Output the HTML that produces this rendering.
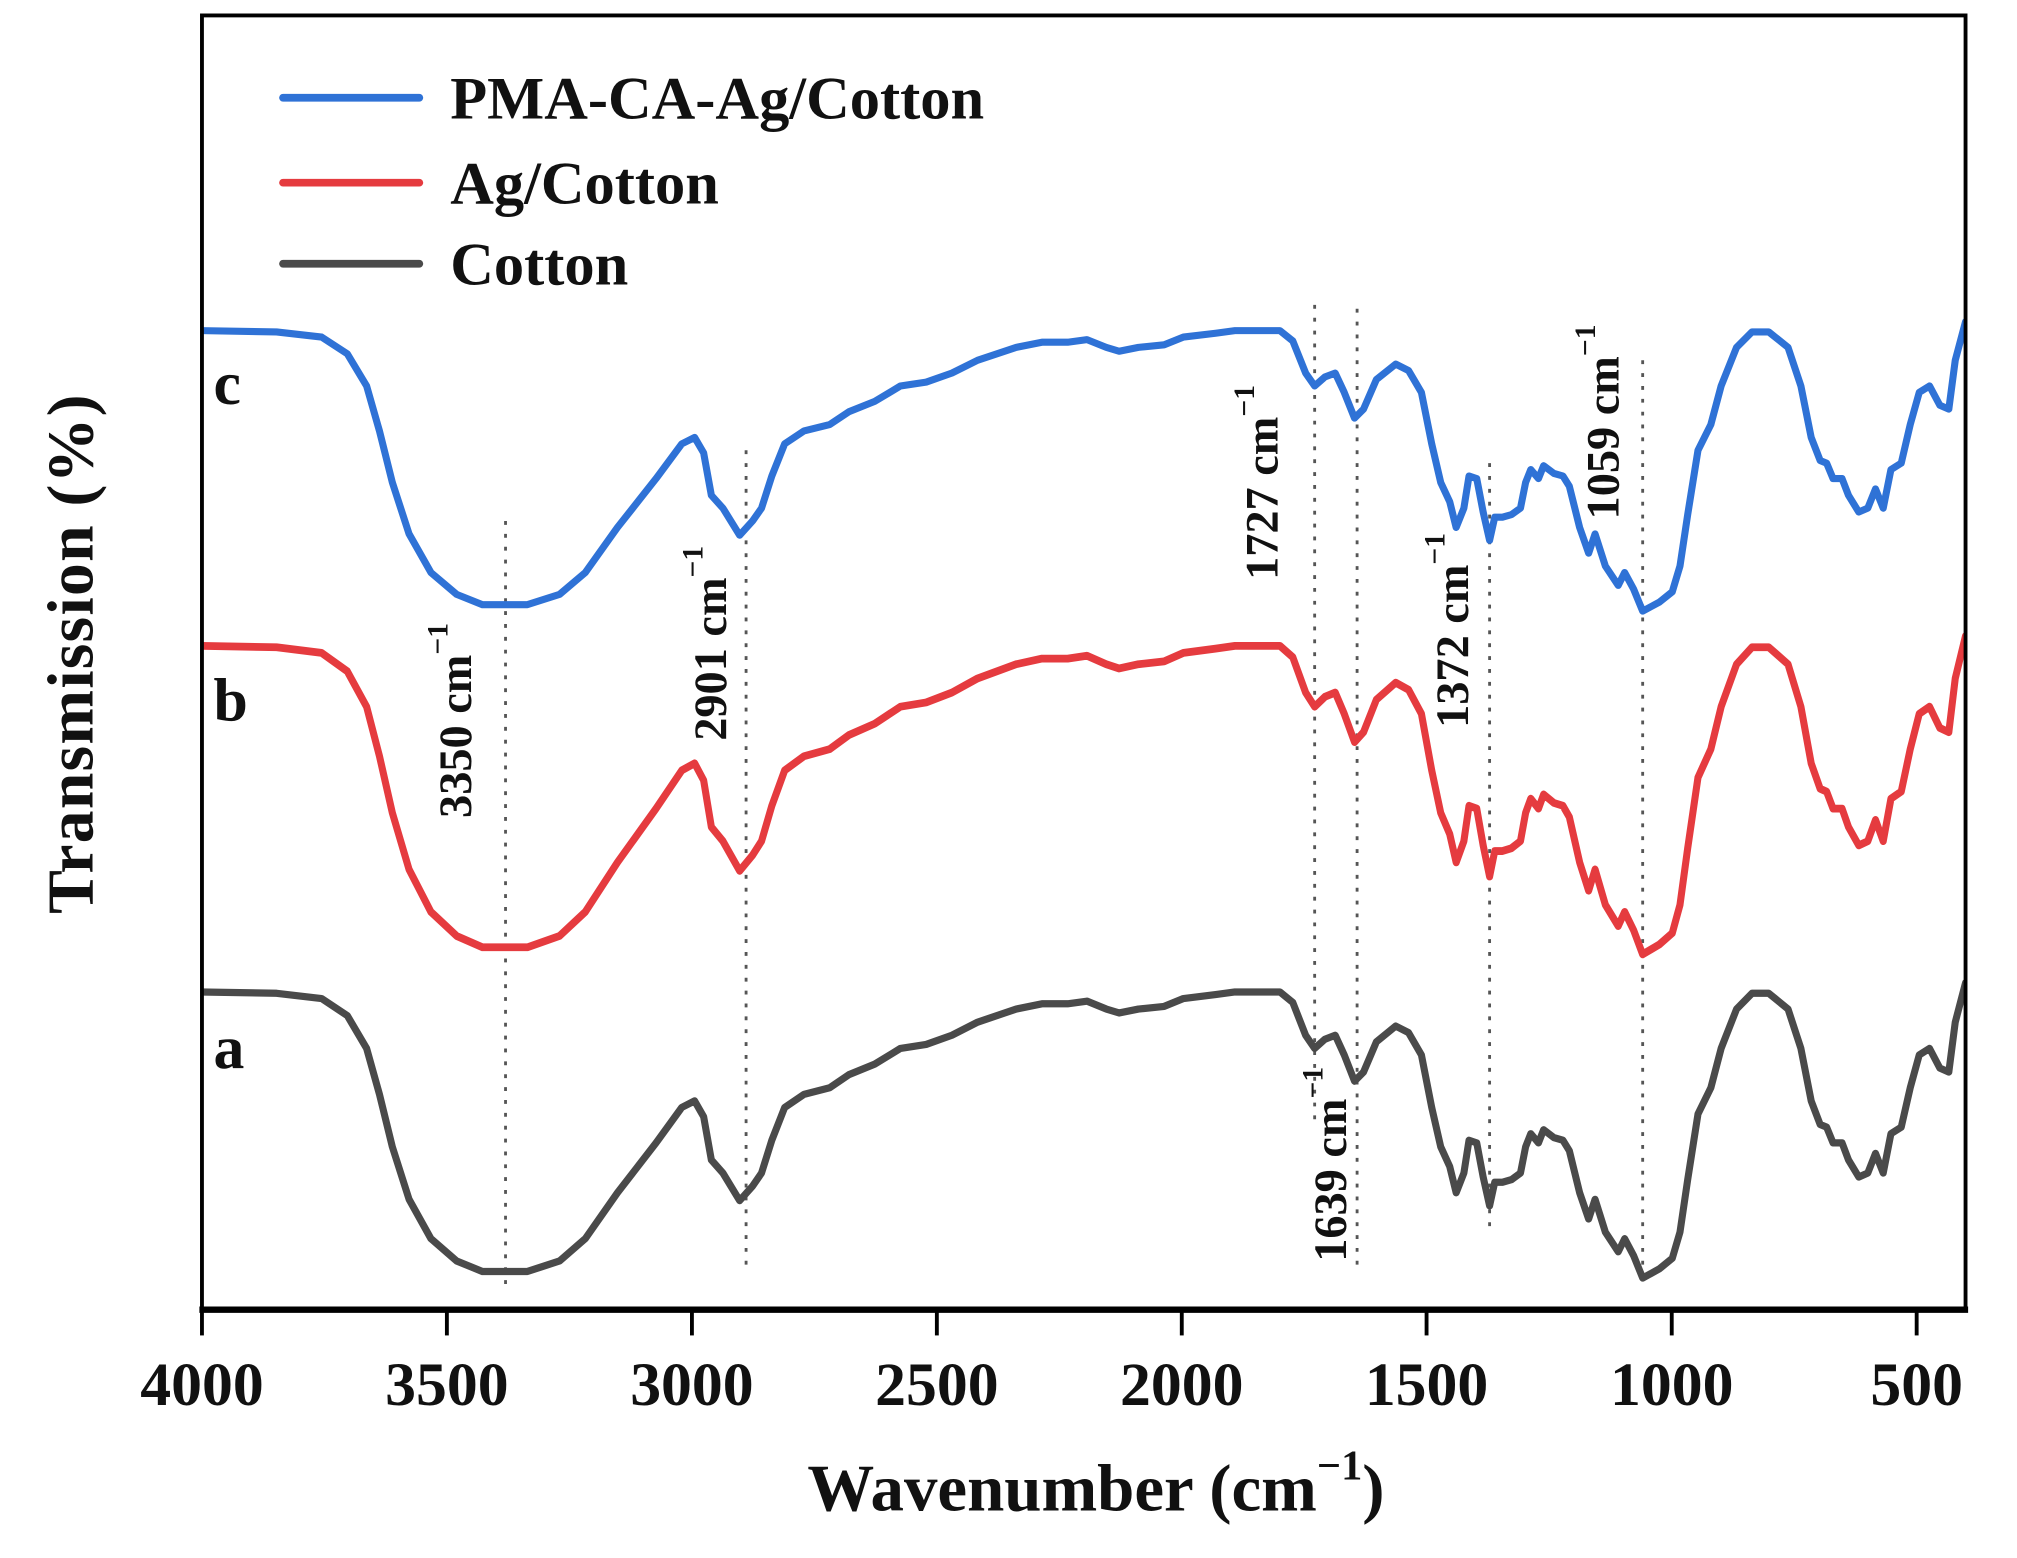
<!DOCTYPE html>
<html><head><meta charset="utf-8"><style>
html,body{margin:0;padding:0;background:#fff}
svg{display:block}
text{font-family:"Liberation Serif",serif;font-weight:bold;fill:#111}
</style></head><body>
<svg width="2017" height="1558" viewBox="0 0 1568 1211" preserveAspectRatio="none" xmlns="http://www.w3.org/2000/svg">
<defs>
<clipPath id="cp"><rect x="157" y="12" width="1371" height="1006"/></clipPath>
<path id="c" fill="none" d="M157,257 L215,258 L250,262 L270,275 L285,300 L295,335 L305,375 L318,415 L335,445 L355,462 L375,470 L410,470 L435,462 L455,445 L480,410 L510,372 L530,345 L540,340 L547,352 L553,385 L562,395 L575,416 L585,405 L592,395 L600,370 L610,345 L625,335 L645,330 L660,320 L680,312 L700,300 L720,297 L740,290 L760,280 L790,270 L810,266 L830,266 L845,264 L860,270 L870,273 L885,270 L905,268 L920,262 L945,259 L960,257 L995,257 L1005,265 L1015,290 L1022,300 L1030,293 L1038,290 L1045,305 L1053,325 L1060,318 L1070,295 L1085,283 L1095,288 L1105,305 L1113,345 L1120,375 L1127,390 L1132,410 L1138,395 L1142,370 L1148,372 L1153,398 L1158,420 L1162,402 L1168,402 L1175,400 L1182,395 L1186,375 L1190,365 L1196,372 L1200,362 L1208,368 L1215,370 L1220,378 L1228,410 L1235,430 L1240,415 L1248,440 L1258,455 L1263,445 L1270,458 L1277,475 L1290,468 L1300,460 L1306,440 L1312,400 L1320,350 L1330,330 L1338,300 L1350,270 L1362,258 L1375,258 L1390,270 L1400,300 L1408,340 L1415,358 L1420,360 L1425,372 L1432,372 L1437,385 L1445,398 L1452,395 L1458,380 L1464,395 L1470,365 L1478,360 L1485,330 L1492,305 L1500,300 L1508,315 L1515,318 L1520,280 L1528,250"/>
</defs>
<g stroke="#555" stroke-width="2.2" stroke-dasharray="3 7">
<line x1="393" y1="405" x2="393" y2="1000"/>
<line x1="580" y1="350" x2="580" y2="990"/>
<line x1="1022" y1="237" x2="1022" y2="870"/>
<line x1="1055" y1="240" x2="1055" y2="985"/>
<line x1="1158" y1="360" x2="1158" y2="960"/>
<line x1="1277" y1="280" x2="1277" y2="1000"/>
</g>
<g clip-path="url(#cp)" stroke-linejoin="round" stroke-linecap="round">
<use href="#c" stroke="#2f72d6" stroke-width="5.5"/>
<use href="#c" stroke="#e53b3f" stroke-width="5.5" vector-effect="non-scaling-stroke" transform="matrix(1 0 0 1.1 0 219.3)"/>
<use href="#c" stroke="#4a4a4a" stroke-width="5.5" vector-effect="non-scaling-stroke" transform="matrix(1 0 0 1.02 0 508.9)"/>
</g>
<rect x="157" y="12" width="1371" height="1006" fill="none" stroke="#000" stroke-width="3"/>
<line x1="155" y1="1018" x2="1530" y2="1018" stroke="#000" stroke-width="5"/>
<g stroke="#000" stroke-width="3">
<line x1="157" y1="1018" x2="157" y2="1038"/><line x1="347.4" y1="1018" x2="347.4" y2="1038"/>
<line x1="537.9" y1="1018" x2="537.9" y2="1038"/><line x1="728.3" y1="1018" x2="728.3" y2="1038"/>
<line x1="918.7" y1="1018" x2="918.7" y2="1038"/><line x1="1109" y1="1018" x2="1109" y2="1038"/>
<line x1="1299.6" y1="1018" x2="1299.6" y2="1038"/><line x1="1490" y1="1018" x2="1490" y2="1038"/>
</g>
<g font-size="48" text-anchor="middle">
<text x="157" y="1092">4000</text><text x="347.4" y="1092">3500</text><text x="537.9" y="1092">3000</text>
<text x="728.3" y="1092">2500</text><text x="918.7" y="1092">2000</text><text x="1109" y="1092">1500</text>
<text x="1299.6" y="1092">1000</text><text x="1490" y="1092">500</text>
</g>
<text x="852" y="1174" font-size="52" text-anchor="middle">Wavenumber (cm<tspan font-size="33" dy="-24">−1</tspan><tspan dy="24">)</tspan></text>
<text transform="translate(72,508) rotate(-90)" font-size="51" text-anchor="middle" letter-spacing="1">Transmission (%)</text>
<g stroke-width="6" stroke-linecap="round">
<line x1="220" y1="76" x2="326" y2="76" stroke="#2f72d6"/>
<line x1="220" y1="142" x2="326" y2="142" stroke="#e53b3f"/>
<line x1="220" y1="205" x2="326" y2="205" stroke="#4a4a4a"/>
</g>
<g font-size="47">
<text x="350" y="92">PMA-CA-Ag/Cotton</text>
<text x="350" y="158">Ag/Cotton</text>
<text x="350" y="221">Cotton</text>
</g>
<g font-size="48">
<text x="166" y="314">c</text><text x="166" y="560">b</text><text x="166" y="830">a</text>
</g>
<g font-size="36" text-anchor="middle" dominant-baseline="central">
<text transform="translate(355,560) rotate(-90)">3350 cm<tspan font-size="23" dy="-14">−1</tspan></text>
<text transform="translate(553,500) rotate(-90)">2901 cm<tspan font-size="23" dy="-14">−1</tspan></text>
<text transform="translate(982,375) rotate(-90)">1727 cm<tspan font-size="23" dy="-14">−1</tspan></text>
<text transform="translate(1130,490) rotate(-90)">1372 cm<tspan font-size="23" dy="-14">−1</tspan></text>
<text transform="translate(1247,328) rotate(-90)">1059 cm<tspan font-size="23" dy="-14">−1</tspan></text>
<text transform="translate(1035,905) rotate(-90)">1639 cm<tspan font-size="23" dy="-14">−1</tspan></text>
</g>
</svg>
</body></html>
